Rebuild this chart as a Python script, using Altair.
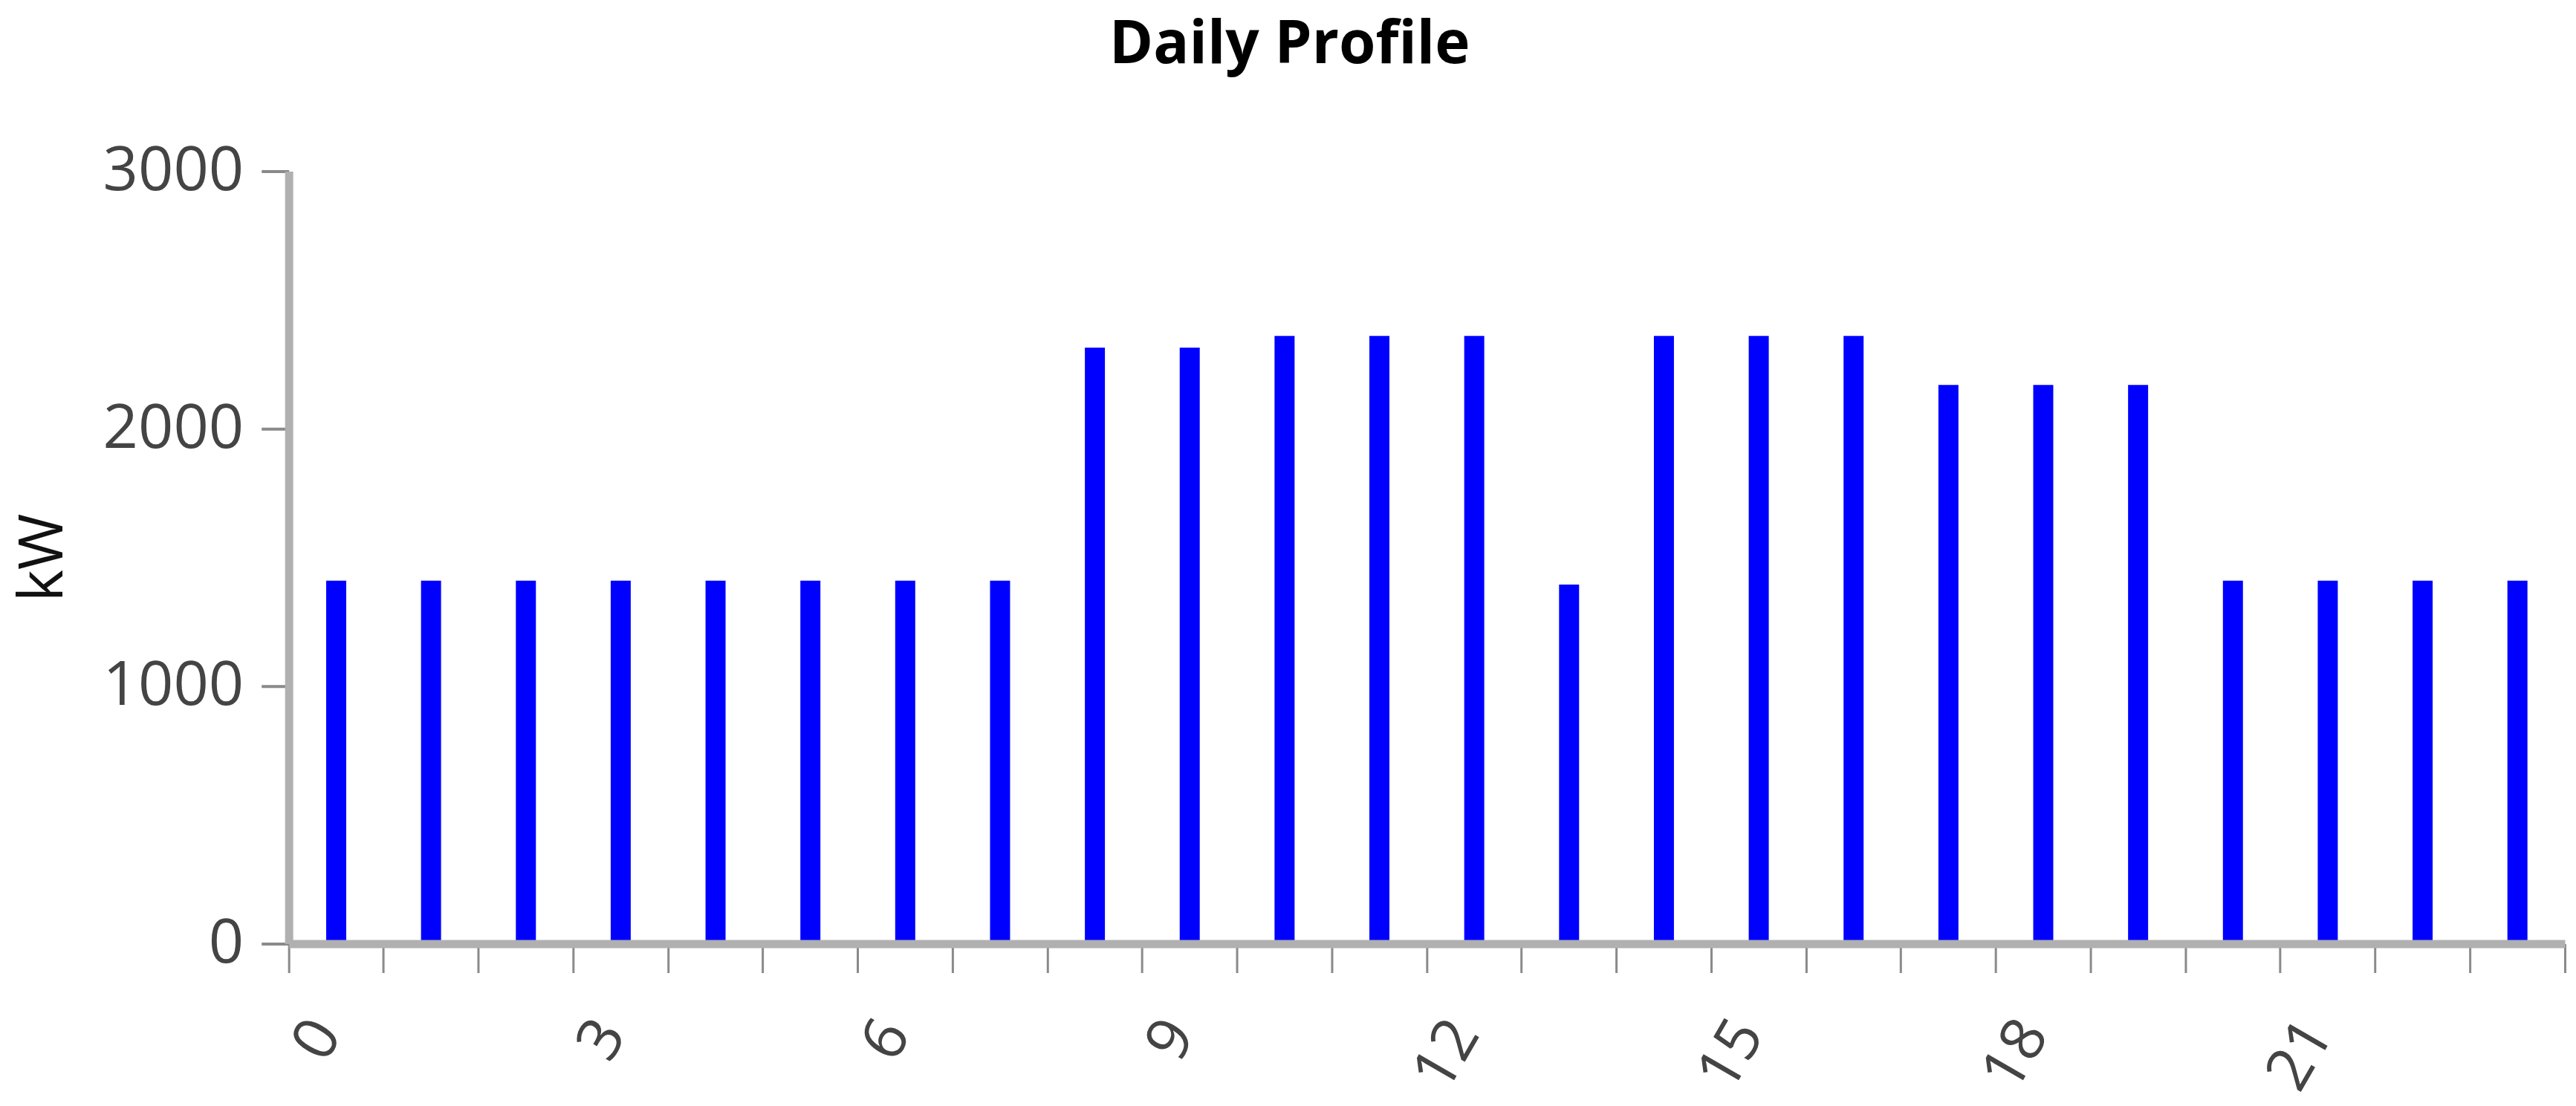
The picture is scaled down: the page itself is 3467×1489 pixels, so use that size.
import altair as alt
import pandas as pd

hours = list(range(24))
kw = [1410, 1410, 1410, 1410, 1410, 1410, 1410, 1410,
      2315, 2315, 2360, 2360, 2360, 1395, 2360, 2360, 2360,
      2170, 2170, 2170, 1410, 1410, 1410, 1410]
y_ticks = [0, 1000, 2000, 3000]

df = pd.DataFrame({"hour": hours, "kW": kw})

FONT = "Open Sans"
W = 3066
H = 1041

chart = alt.Chart(df).mark_bar(width=27, color="#0000ff").encode(
    x=alt.X(
        "hour:O",
        scale=alt.Scale(paddingInner=0, paddingOuter=0),
        axis=alt.Axis(
            title=None,
            bandPosition=1,
            tickExtra=True,
            labelAngle=300,
            labelAlign="right",
            labelBaseline="middle",
            labelOffset=-13,
            labelExpr="datum.value % 3 == 0 ? datum.label : ''",
            labelOverlap=False,
            labelBound=False,
            labelLimit=0,
            labelFont=FONT,
            labelFontSize=82,
            labelColor="#444444",
            labelPadding=70,
            domainColor="#b0b0b0",
            domainWidth=11,
            tickColor="#8a8a8a",
            tickWidth=3,
            tickSize=39,
            grid=False,
            zindex=1,
        ),
    ),
    y=alt.Y(
        "kW:Q",
        scale=alt.Scale(domain=[0, 3000], nice=False),
        axis=alt.Axis(
            title="kW",
            values=y_ticks,
            format="d",
            labelLimit=0,
            titleFont=FONT,
            titleFontSize=82,
            titleFontWeight="normal",
            titleColor="#111111",
            titlePadding=88,
            labelFont=FONT,
            labelFontSize=83,
            labelColor="#444444",
            labelPadding=24,
            domainColor="#b0b0b0",
            domainWidth=11,
            tickColor="#8a8a8a",
            tickWidth=4,
            tickSize=37,
            grid=False,
            zindex=1,
        ),
    ),
).properties(
    width=W,
    height=H,
    padding={"left": 10, "top": 12, "right": 5, "bottom": 5},
    title=alt.TitleParams(
        "Daily Profile",
        font=FONT,
        fontSize=80,
        fontWeight="bold",
        color="#000000",
        anchor="middle",
        frame="bounds",
        baseline="alphabetic",
        offset=25,
    ),
).configure_view(stroke=None)

chart.save("out.html", embed_options={"renderer": "svg", "actions": False})
